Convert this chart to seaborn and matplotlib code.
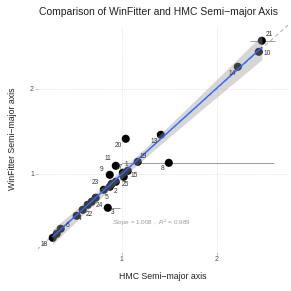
import numpy as np
import pandas as pd
import matplotlib
matplotlib.use("Agg")
import matplotlib.pyplot as plt
import seaborn as sns

# ---- data ----
ids = [str(i) for i in range(1, 26)]
hmc = [1.063, 0.874, 0.853, 0.526, 0.726, 0.358, 0.316, 1.495, 0.874, 2.442,
       0.937, 0.895, 1.411, 2.221, 1.021, 0.642, 1.011, 0.274, 1.168, 1.042,
       2.474, 0.589, 0.811, 0.684, 0.937]
winfitter = [1.035, 0.847, 0.600, 0.506, 0.718, 0.353, 0.294, 1.129, 0.988, 2.435,
             1.094, 0.882, 1.459, 2.259, 0.965, 0.635, 1.012, 0.247, 1.141, 1.412,
             2.565, 0.576, 0.812, 0.671, 0.906]
err_ids = ["21", "8", "3"]
err_xmin = [2.35, 1.00, 0.80]
err_xmax = [2.61, 2.60, 0.98]
shown_labels = ["1", "2", "3", "4", "5", "6", "8", "9", "10", "11", "13", "14", "15",
                "17", "18", "19", "20", "21", "22", "23", "24", "25"]
x_ticks = [1, 2]
y_ticks = [1, 2]
slope_text = "1.008"
r2_text = "0.989"

# label offsets (pixels) -- styling only
label_offsets = {"1": (-1, 6), "2": (6, -5), "3": (5, -5), "4": (3, -3), "5": (11, 0),
                 "6": (7, 3), "8": (-6, -6), "9": (-8, 5), "10": (8, -2), "11": (-8, 7),
                 "13": (-7, -7), "14": (-6, -7), "15": (10, 1), "17": (-4, 5),
                 "18": (-9, -7), "19": (5, 5), "20": (-7, -7), "21": (7, 6),
                 "22": (7, -5), "23": (-8, 7), "24": (8, -4), "25": (10, -3)}

df = pd.DataFrame({"id": ids, "hmc": hmc, "wf": winfitter})

sns.set_theme(style="white")
plt.rcParams["font.family"] = ["Liberation Sans", "DejaVu Sans"]
plt.rcParams["mathtext.fontset"] = "custom"
plt.rcParams["mathtext.it"] = "Liberation Sans:italic"
plt.rcParams["mathtext.rm"] = "Liberation Sans"

fig = plt.figure(figsize=(2.91, 2.91), dpi=100)
ax = fig.add_axes([0.131, 0.134, 0.859, 0.780])

ax.set_xlim(0.12, 2.75)
ax.set_ylim(0.08, 2.75)

# grid
for t in x_ticks:
    ax.axvline(t, color="#DADADA", lw=0.6, ls=(0, (1, 1.5)), zorder=0)
for t in y_ticks:
    ax.axhline(t, color="#DADADA", lw=0.6, ls=(0, (1, 1.5)), zorder=0)

# identity line
ax.plot([0, 3], [0, 3], color="#AAAAAA", lw=0.7, ls=(0, (4, 3)), zorder=1)

# error bars
edf = df.set_index("id").loc[err_ids]
ax.hlines(edf["wf"].values, err_xmin, err_xmax, color="#9A9A9A", lw=0.7, zorder=1)

# points
sns.scatterplot(data=df, x="hmc", y="wf", color="black", s=34, edgecolor="none",
                ax=ax, zorder=2, legend=False)

# linear fit with 95% CI
x = np.asarray(hmc)
y = np.asarray(winfitter)
n = len(x)
b1, b0 = np.polyfit(x, y, 1)
resid = y - (b0 + b1 * x)
s = np.sqrt(np.sum(resid ** 2) / (n - 2))
grid = np.linspace(x.min(), x.max(), 100)
se = s * np.sqrt(1 / n + (grid - x.mean()) ** 2 / np.sum((x - x.mean()) ** 2))
tval = 2.069
yhat = b0 + b1 * grid
ax.fill_between(grid, yhat - tval * se, yhat + tval * se, color="#999999",
                alpha=0.4, lw=0, zorder=3)
sns.lineplot(x=grid, y=yhat, color="#3366FF", lw=1.0, ax=ax, zorder=4)

# labels
for i, xv, yv in zip(ids, hmc, winfitter):
    if i in shown_labels:
        dx, dy = label_offsets[i]
        ax.annotate(i, (xv, yv), xytext=(dx, dy), textcoords="offset pixels",
                    ha="center", va="center", fontsize=4.8, color="#333333", zorder=5)

ax.text(0.895, 0.42, r"$\it{Slope}$ = " + slope_text + r" ,  $\it{R}^{2}$ = " + r2_text,
        fontsize=4.6, color="#999999", ha="left", va="center", zorder=5)

ax.set_xticks(x_ticks)
ax.set_yticks(y_ticks)
ax.set_xticklabels([str(t) for t in x_ticks])
ax.set_yticklabels([str(t) for t in y_ticks])
ax.tick_params(axis="both", length=2, width=0.5, color="#AAAAAA", labelsize=5,
               labelcolor="#4D4D4D", pad=1, bottom=True, left=True)
for sp in ax.spines.values():
    sp.set_visible(False)

ax.set_xlabel("HMC Semi\u2212major axis", fontsize=6.3, color="#222222", labelpad=6)
ax.set_ylabel("WinFitter Semi\u2212major axis", fontsize=6.3, color="#222222", labelpad=9)
fig.suptitle("Comparison of WinFitter and HMC Semi\u2212major Axis", fontsize=7.5,
             color="#222222", x=0.545, y=0.975)

fig.savefig("out.png", dpi=100)
